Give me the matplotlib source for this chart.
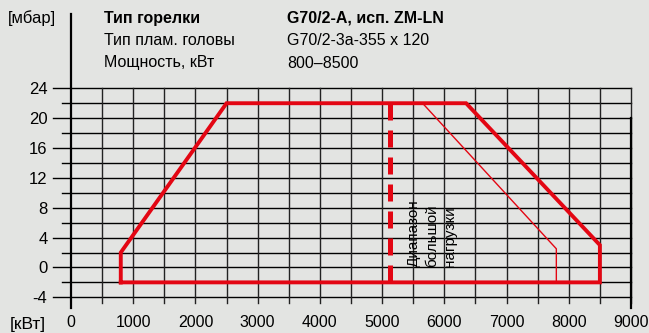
import numpy as np
import matplotlib.pyplot as plt

plt.rcParams['font.family'] = ['Liberation Sans', 'DejaVu Sans']
plt.rcParams['axes.unicode_minus'] = False

# working field of the burner (kW, mbar)
field_x = [800, 800, 2500, 6350, 8500, 8500, 800]
field_y = [-2, 2, 22, 22, 3, -2, -2]
# inner limit line
inner_x = [5650, 7800, 7800]
inner_y = [22, 2.5, -2]
# high-load boundary
dash_x = [5130, 5130]
dash_y = [22, -2]

xticks = list(range(0, 9001, 1000))
yticks = list(range(-4, 25, 4))

header_left = ["Тип горелки", "Тип плам. головы", "Мощность, кВт"]
header_right = ["G70/2-A, исп. ZM-LN", "G70/2-3a-355 x 120", "800–8500"]

bg = '#e3e4e2'
red = '#e30613'
W, H = 649, 333

fig = plt.figure(figsize=(W / 100, H / 100), dpi=100, facecolor=bg)
ax = fig.add_axes([71 / W, 35.7 / H, 560 / W, 209 / H])
ax.set_facecolor(bg)
ax.set_xlim(0, 9000)
ax.set_ylim(-4, 24)
for s in ax.spines.values():
    s.set_visible(False)

# grid
for y in range(-4, 25, 2):
    x0 = -290 if y % 4 == 0 else -145
    ax.plot([x0, 9000], [y, y], color='black', lw=1.0, clip_on=False, zorder=1)
for x in range(500, 9001, 500):
    ax.plot([x, x], [-4.8, 24], color='#222222', lw=1.0, clip_on=False, zorder=1)
ax.plot([0, 0], [-5.5, 34], color='black', lw=1.6, clip_on=False, zorder=2)
ax.plot([9000, 9000], [-5.4, 20], color='black', lw=1.6, clip_on=False, zorder=2)

# curves
ax.plot(field_x, field_y, color=red, lw=2.8, solid_joinstyle='miter', zorder=3)
ax.plot(inner_x, inner_y, color=red, lw=1.0, zorder=3)
ax.plot(dash_x, dash_y, color=red, lw=3.6, linestyle=(0, (3.4, 2.0)), zorder=3)

ax.text(5800, 0, "Диапазон\nбольшой\nнагрузки", rotation=90, ha='center', va='bottom',
        multialignment='left', fontsize=11, linespacing=1.4, zorder=4)

ax.set_xticks(xticks)
ax.set_yticks(yticks)
ax.tick_params(axis='y', length=0, labelsize=12, pad=17)
ax.tick_params(axis='x', length=0, labelsize=11.5, pad=13)

fig.text(8 / W, 1 - 18 / H, "[мбар]", fontsize=12, va='center')
fig.text(10 / W, 1 - 325 / H, "[кВт]", fontsize=12.5, va='center')

for i, (a, b) in enumerate(zip(header_left, header_right)):
    yy = 1 - (18 + i * 22.5) / H
    w = 'bold' if i == 0 else 'normal'
    fig.text(104 / W, yy, a, fontsize=11.5, weight=w, va='center')
    fig.text(287 / W, yy, b, fontsize=11.5, weight=w, va='center')

fig.savefig('out.png', dpi=100, facecolor=bg)
